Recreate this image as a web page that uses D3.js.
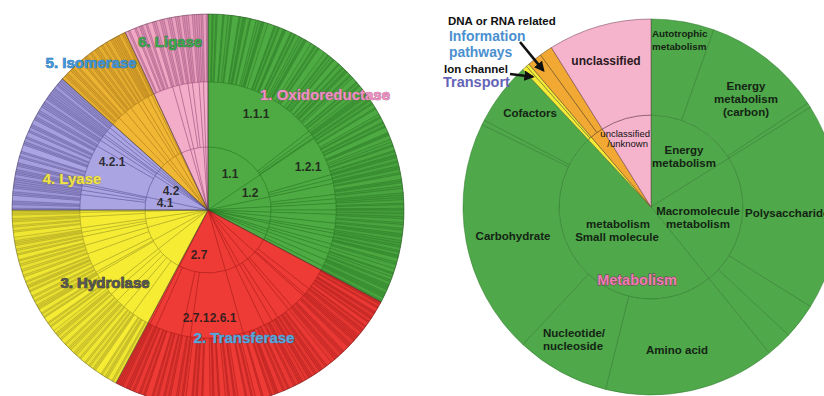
<!DOCTYPE html>
<html>
<head>
<meta charset="utf-8">
<script src="https://cdn.jsdelivr.net/npm/d3@7"></script>
<style>
  html, body { margin: 0; padding: 0; background: #fff; }
  svg { display: block; font-family: "Liberation Sans", Arial, sans-serif; font-weight: bold; }
</style>
</head>
<body>
<svg id="chart" width="824" height="396"></svg>
<script>
// ---------------------------------------------------------------------------
// Left sunburst: enzyme classes (EC numbers).
// Each row: [subclass, sub-subclass, share of the circle in degrees,
//            relative sizes of the fourth-level entries, one digit each]
// ---------------------------------------------------------------------------
const ecClasses = ["1", "2", "3", "4", "5", "6"];
const ecClassNames = ["1. Oxidoreductase", "2. Transferase", "3. Hydrolase",
                      "4. Lyase", "5. Isomerase", "6. Ligase"];

const ec1Rows = [
  ["1.1", "1.1.1", 52, "3121413215121131422113512131141213221143121531221413121131241213"],
  ["1.1", "1.1.3", 2, "211"],
  ["1.1", "1.1.5", 1.5, "12"],
  ["1.1", "1.1.99", 0.5, "1"],
  ["1.2", "1.2.1", 18, "2131421312141132213121"],
  ["1.2", "1.2.4", 2, "121"],
  ["1.2", "1.2.7", 2, "211"],
  ["1.3", "1.3.1", 5, "213112"],
  ["1.3", "1.3.3", 2, "12"],
  ["1.3", "1.3.99", 2, "111"],
  ["1.4", "1.4.1", 3, "2121"],
  ["1.4", "1.4.3", 2, "11"],
  ["1.5", "1.5.1", 4, "12121"],
  ["1.6", "1.6.5", 3, "2112"],
  ["1.6", "1.6.99", 1.5, "11"],
  ["1.7", "1.7.1", 2, "121"],
  ["1.8", "1.8.1", 3, "2113"],
  ["1.8", "1.8.4", 2, "12"],
  ["1.11", "1.11.1", 2.5, "312"],
  ["1.13", "1.13.11", 3, "2121"],
  ["1.14", "1.14.13", 3, "11211"],
  ["1.14", "1.14.14", 2, "121"]
];
const ec2Rows = [
  ["2.1", "2.1.1", 10, "1121311211213121"],
  ["2.1", "2.1.2", 3, "1211"],
  ["2.1", "2.1.3", 1, "11"],
  ["2.3", "2.3.1", 7, "21131121"],
  ["2.3", "2.3.2", 2, "12"],
  ["2.4", "2.4.1", 6, "3121121"],
  ["2.4", "2.4.2", 3, "2112"],
  ["2.5", "2.5.1", 4, "21121"],
  ["2.6", "2.6.1", 10, "31213112141"],
  ["2.7", "2.7.1", 24, "4213152131241312513121421"],
  ["2.7", "2.7.4", 4, "2131"],
  ["2.7", "2.7.7", 12, "21312141213121"],
  ["2.7", "2.7.8", 3, "1211"],
  ["2.8", "2.8.1", 1, "11"]
];
const ec3Rows = [
  ["3.1", "3.1.1", 8, "2131121411"],
  ["3.1", "3.1.3", 5, "212131"],
  ["3.1", "3.1.4", 4, "21121"],
  ["3.1", "3.1.21", 4, "12131"],
  ["3.1", "3.1.26", 3, "2112"],
  ["3.2", "3.2.1", 8, "3121412131"],
  ["3.2", "3.2.2", 1, "11"],
  ["3.4", "3.4.11", 3, "2121"],
  ["3.4", "3.4.21", 6, "31211213"],
  ["3.4", "3.4.24", 4, "12121"],
  ["3.5", "3.5.1", 4, "21312"],
  ["3.5", "3.5.2", 2, "121"],
  ["3.5", "3.5.4", 2, "112"],
  ["3.6", "3.6.1", 5, "312121"],
  ["3.6", "3.6.3", 2, "121"],
  ["3.8", "3.8.1", 1, "11"]
];
const ec4Rows = [
  ["4.1", "4.1.1", 7, "121131121"],
  ["4.1", "4.1.2", 2, "111"],
  ["4.1", "4.1.3", 2, "121"],
  ["4.1", "4.1.99", 1, "11"],
  ["4.2", "4.2.1", 18, "2113121411213121131121"],
  ["4.2", "4.2.3", 3, "1211"],
  ["4.3", "4.3.1", 2, "121"],
  ["4.3", "4.3.2", 1, "11"],
  ["4.4", "4.4.1", 2, "111"],
  ["4.6", "4.6.1", 2, "121"],
  ["4.99", "4.99.1", 2, "111"]
];
const ec5Rows = [
  ["5.1", "5.1.1", 4, "21121"],
  ["5.1", "5.1.3", 4, "12131"],
  ["5.2", "5.2.1", 3, "2112"],
  ["5.3", "5.3.1", 4, "12112"],
  ["5.3", "5.3.3", 2, "121"],
  ["5.4", "5.4.2", 3, "2111"],
  ["5.4", "5.4.99", 2, "112"],
  ["5.99", "5.99.1", 1, "11"]
];
const ec6Rows = [
  ["6.1", "6.1.1", 9, "21312112131"],
  ["6.2", "6.2.1", 3, "1211"],
  ["6.3", "6.3.2", 4, "21121"],
  ["6.3", "6.3.4", 2, "121"],
  ["6.3", "6.3.5", 3, "1121"],
  ["6.4", "6.4.1", 2, "111"],
  ["6.5", "6.5.1", 2, "121"]
];

// ---------------------------------------------------------------------------
// Right sunburst: functional categories.
// Each row: [category, subcategory, sub-subcategory, share of the circle in degrees]
// ---------------------------------------------------------------------------
const funcCategories = ["Metabolism", "Transport", "Information pathways", "unclassified"];
const funcRows = [
  ["Metabolism", "Energy metabolism", "Autotrophic metabolism", 19.5],
  ["Metabolism", "Energy metabolism", "Energy metabolism (carbon)", 37],
  ["Metabolism", "Energy metabolism", "Energy metabolism (other)", 1.5],
  ["Metabolism", "Macromolecule metabolism", "Polysaccharide", 64],
  ["Metabolism", "Macromolecule metabolism", "Macromolecule (other 1)", 11],
  ["Metabolism", "Macromolecule metabolism", "Macromolecule (other 2)", 8],
  ["Metabolism", "Small molecule metabolism", "Amino acid", 53],
  ["Metabolism", "Small molecule metabolism", "Nucleotide/nucleoside", 29],
  ["Metabolism", "Small molecule metabolism", "Carbohydrate", 73],
  ["Metabolism", "Small molecule metabolism", "Small molecule (other)", 1.5],
  ["Metabolism", "Small molecule metabolism", "Cofactors", 19.5],
  ["Transport", "Transport", "Ion channel", 1.5],
  ["Transport", "Transport", "Transport (other)", 1],
  ["Information pathways", "Information pathways", "DNA or RNA related", 4.5],
  ["Information pathways", "Information pathways", "Information (other)", 4],
  ["unclassified", "unclassified/unknown", "unclassified", 32]
];

// ---------------------------------------------------------------------------
// Styling
// ---------------------------------------------------------------------------
const ecFill = ["#4eaa42", "#ee3b35", "#f5ec33", "#aba4e2", "#f0b734", "#f4adc9"];
const ecDark = ["#23701f", "#9c1717", "#8f8a22", "#4f4788", "#9c6c15", "#8c3d6c"];
const ecRings = { 2: [0, 63], 3: [63, 128], 4: [128, 196] };

const funcFill = { "Metabolism": "#4fa84a", "Transport": "#f3ec36",
                   "Information pathways": "#f1a934", "unclassified": "#f5b4cc" };
const funcStroke = { "Metabolism": "#2f7a2d", "Transport": "#5a5420",
                     "Information pathways": "#5a3d14", "unclassified": "#6a3a50" };
const funcRings = { 2: [0, 92], 3: [92, 188] };

const svg = d3.select("#chart");
const defs = svg.append("defs");
defs.append("marker")
  .attr("id", "arrowhead").attr("viewBox", "0 0 10 10")
  .attr("refX", 8).attr("refY", 5)
  .attr("markerWidth", 4).attr("markerHeight", 4)
  .attr("orient", "auto-start-reverse")
  .append("path").attr("d", "M0,0 L10,5 L0,10 Z").attr("fill", "#111");

// ---------------------------------------------------------------------------
// Left chart
// ---------------------------------------------------------------------------
const ecRowsByClass = [ec1Rows, ec2Rows, ec3Rows, ec4Rows, ec5Rows, ec6Rows];
const ecTree = {
  name: "EC",
  children: ecClasses.map((c, i) => ({
    name: c, classIndex: i,
    children: d3.groups(ecRowsByClass[i], r => r[0]).map(([sub, rows]) => ({
      name: sub,
      children: rows.map(([, subsub, share, pattern]) => {
        const w = pattern.split("").map(Number);
        const tot = d3.sum(w);
        return {
          name: subsub,
          children: w.map((v, k) => ({ name: subsub + "." + (k + 1), value: share * v / tot, weight: v }))
        };
      })
    }))
  }))
};

const ecRoot = d3.partition().size([2 * Math.PI, 4])(
  d3.hierarchy(ecTree).sum(d => d.value || 0)
);
const classOf = d => { let n = d; while (n.depth > 1) n = n.parent; return n.data.classIndex; };

const ecArc = d3.arc()
  .startAngle(d => d.x0).endAngle(d => d.x1)
  .innerRadius(d => d.depth === 1 ? 0 : ecRings[d.depth][0])
  .outerRadius(d => d.depth === 1 ? 196 : ecRings[d.depth][1]);

const left = svg.append("g").attr("transform", "translate(208,210)");

left.append("g").selectAll("path")
  .data(ecRoot.descendants().filter(d => d.depth === 1))
  .join("path").attr("d", ecArc).attr("fill", d => ecFill[classOf(d)]);

// fourth level: thin slices, narrow ones shaded a little darker
left.append("g").selectAll("path")
  .data(ecRoot.descendants().filter(d => d.depth === 4))
  .join("path").attr("d", ecArc)
  .attr("fill", d => {
    const k = classOf(d);
    const t = d.data.weight === 1 ? 0.24 : d.data.weight === 2 ? 0.12 : d.data.weight === 3 ? 0.05 : 0;
    return d3.interpolateRgb(ecFill[k], ecDark[k])(t);
  })
  .attr("stroke", d => ecDark[classOf(d)])
  .attr("stroke-width", 0.55).attr("stroke-opacity", 0.55);

left.append("g").selectAll("path")
  .data(ecRoot.descendants().filter(d => d.depth === 2 || d.depth === 3))
  .join("path").attr("d", ecArc)
  .attr("fill", d => ecFill[classOf(d)])
  .attr("stroke", d => ecDark[classOf(d)])
  .attr("stroke-width", 0.7).attr("stroke-opacity", 0.55);

// class boundaries drawn on top
left.append("g").selectAll("path")
  .data(ecRoot.descendants().filter(d => d.depth === 1))
  .join("path").attr("d", ecArc).attr("fill", "none")
  .attr("stroke", "#3a3a3a").attr("stroke-width", 0.6).attr("stroke-opacity", 0.5);

// label layout: [dx, dy] from the centre
const ecClassLabelPos = [[117, -116], [36, 127], [-103, 72], [-136, -32], [-117, -148], [-38, -169]];
const ecClassLabelStyle = [
  { fill: "#ee90c3", stroke: "#a4527f" },
  { fill: "#5aa7dc", stroke: "#2f6e9c" },
  { fill: "#565656", stroke: "#262626" },
  { fill: "#f1e44a", stroke: "#978b1c" },
  { fill: "#3f95d8", stroke: "#2a69a0" },
  { fill: "#3aa84e", stroke: "#1d662c" }
];
left.append("g").selectAll("text")
  .data(ecClassNames)
  .join("text")
  .attr("x", (d, i) => ecClassLabelPos[i][0]).attr("y", (d, i) => ecClassLabelPos[i][1])
  .attr("text-anchor", "middle").attr("dominant-baseline", "central")
  .style("font-size", "15px")
  .attr("fill", (d, i) => ecClassLabelStyle[i].fill)
  .attr("stroke", (d, i) => ecClassLabelStyle[i].stroke)
  .attr("stroke-width", 0.7).attr("paint-order", "stroke")
  .text(d => d);

const ecNodeLabels = [
  ["1.1.1", 48, -96], ["1.2.1", 100, -43], ["1.1", 22, -36], ["1.2", 42, -17],
  ["4.2.1", -96, -48], ["4.2", -37, -19], ["4.1", -43, -7], ["2.7", -9, 45],
  ["2.7.1", -12, 108], ["2.6.1", 15, 108]
];
left.append("g").selectAll("text")
  .data(ecNodeLabels)
  .join("text")
  .attr("x", d => d[1]).attr("y", d => d[2])
  .attr("text-anchor", "middle").attr("dominant-baseline", "central")
  .style("font-size", "12px").attr("fill", "#1c1c1c").attr("fill-opacity", 0.88)
  .text(d => d[0]);

// ---------------------------------------------------------------------------
// Right chart
// ---------------------------------------------------------------------------
const funcTree = {
  name: "all",
  children: funcCategories.map(cat => ({
    name: cat,
    children: d3.groups(funcRows.filter(r => r[0] === cat), r => r[1]).map(([sub, rows]) => ({
      name: sub,
      children: rows.map(r => ({ name: r[2], value: r[3] }))
    }))
  }))
};
const funcRoot = d3.partition().size([2 * Math.PI, 3])(
  d3.hierarchy(funcTree).sum(d => d.value || 0)
);
const catOf = d => { let n = d; while (n.depth > 1) n = n.parent; return n.data.name; };
const funcArc = d3.arc()
  .startAngle(d => d.x0).endAngle(d => d.x1)
  .innerRadius(d => funcRings[d.depth][0])
  .outerRadius(d => funcRings[d.depth][1]);

const right = svg.append("g").attr("transform", "translate(651,207)");
right.append("g").selectAll("path")
  .data(funcRoot.descendants().filter(d => d.depth >= 2))
  .join("path").attr("d", funcArc)
  .attr("fill", d => funcFill[catOf(d)])
  .attr("stroke", d => funcStroke[catOf(d)])
  .attr("stroke-width", 0.8).attr("stroke-opacity", 0.65);

// arrows point to the middle of their slice in the outer ring
const nodeByName = name => funcRoot.descendants().find(d => d.depth === 3 && d.data.name === name);
const polar = (a, r) => [r * Math.sin(a), -r * Math.cos(a)];
const arrowSpecs = [["DNA or RNA related", [-131, -165], 174], ["Ion channel", [-141, -133], 176]];
right.append("g").selectAll("line")
  .data(arrowSpecs)
  .join("line")
  .attr("x1", d => d[1][0]).attr("y1", d => d[1][1])
  .attr("x2", d => { const n = nodeByName(d[0]); return polar((n.x0 + n.x1) / 2, d[2])[0]; })
  .attr("y2", d => { const n = nodeByName(d[0]); return polar((n.x0 + n.x1) / 2, d[2])[1]; })
  .attr("stroke", "#111").attr("stroke-width", 2.6)
  .attr("marker-end", "url(#arrowhead)");

// label layout: [text, dx, dy, anchor, size, fill, weight]
const dark = "#142414";
const funcLabels = [
  ["DNA or RNA related", -203, -186, "start", 11.5, "#111"],
  ["Information", -202, -171, "start", 13.9, "#4a90cf"],
  ["pathways", -202, -155.5, "start", 13.9, "#4a90cf"],
  ["Ion channel", -207, -138, "start", 11.5, "#111"],
  ["Transport", -208, -125, "start", 14.5, "#6464b6"],
  ["unclassified", -45, -146, "middle", 12, "#2a1820"],
  ["Autotrophic", 1, -174, "start", 9.8, dark],
  ["metabolism", 1, -161, "start", 9.8, dark],
  ["Energy", 95, -121, "middle", 11.5, dark],
  ["metabolism", 95, -108, "middle", 11.5, dark],
  ["(carbon)", 95, -95, "middle", 11.5, dark],
  ["Cofactors", -121, -94, "middle", 11.5, dark],
  ["unclassified", -1, -74, "end", 9.5, "#111", "normal"],
  ["/unknown", -3, -64, "end", 9.5, "#111", "normal"],
  ["Energy", 33, -57, "middle", 11.5, dark],
  ["metabolism", 33, -44, "middle", 11.5, dark],
  ["Macromolecule", 47, 4, "middle", 11.5, dark],
  ["metabolism", 47, 17, "middle", 11.5, dark],
  ["Polysaccharide", 94, 6, "start", 11.5, dark],
  ["metabolism", -33, 17, "middle", 11.5, dark],
  ["Small molecule", -34, 30, "middle", 11.5, dark],
  ["Carbohydrate", -138, 29, "middle", 11.5, dark],
  ["Nucleotide/", -77, 126, "middle", 11.5, dark],
  ["nucleoside", -78, 139, "middle", 11.5, dark],
  ["Amino acid", 26, 143, "middle", 11.5, dark]
];
right.append("g").selectAll("text")
  .data(funcLabels)
  .join("text")
  .attr("x", d => d[1]).attr("y", d => d[2])
  .attr("text-anchor", d => d[3]).attr("dominant-baseline", "central")
  .style("font-size", d => d[4] + "px")
  .style("font-weight", d => d[6] || "bold")
  .attr("fill", d => d[5])
  .text(d => d[0]);

right.append("text")
  .attr("x", -14).attr("y", 73)
  .attr("text-anchor", "middle").attr("dominant-baseline", "central")
  .style("font-size", "14.5px")
  .attr("fill", "#ef7cb2").attr("stroke", "#6c3552").attr("stroke-width", 0.8)
  .attr("paint-order", "stroke")
  .text(funcCategories[0]);
</script>
</body>
</html>
